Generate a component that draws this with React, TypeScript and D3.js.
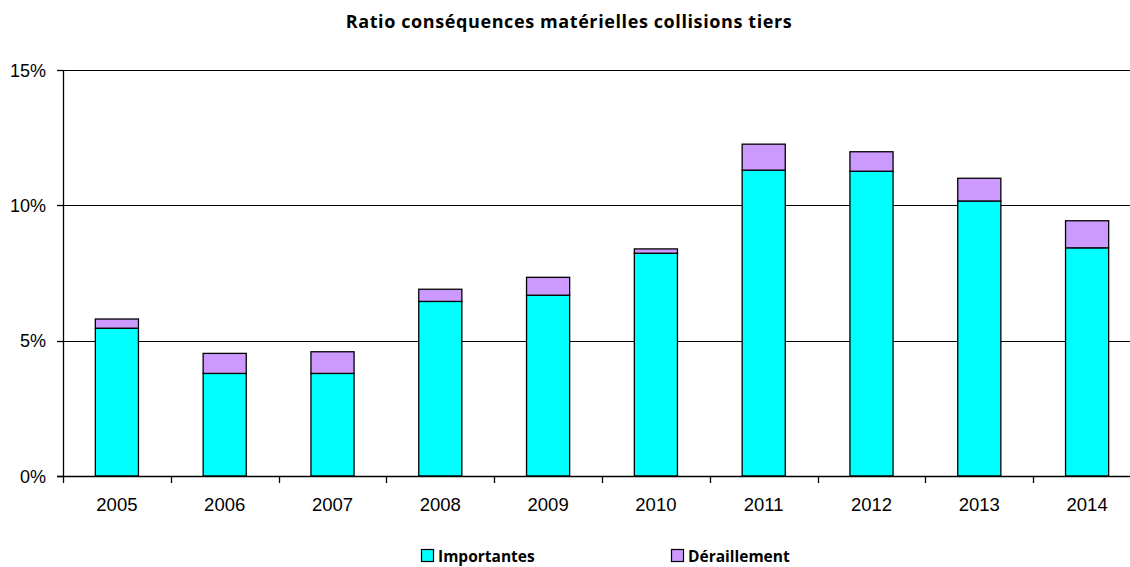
import { useEffect, useRef } from 'react'
import * as d3 from 'd3'

const YEARS = ['2005', '2006', '2007', '2008', '2009', '2010', '2011', '2012', '2013', '2014']
const IMPORTANTES = [5.46, 3.79, 3.79, 6.45, 6.68, 8.23, 11.3, 11.26, 10.16, 8.43]
const DERAILLEMENT = [0.34, 0.74, 0.8, 0.45, 0.66, 0.16, 0.96, 0.72, 0.84, 1.0]
const Y_TICKS = [0, 5, 10, 15]
const SERIES = ['Importantes', 'Déraillement']
const COLORS = ['#00ffff', '#cc99ff']

const WIDTH = 1130
const HEIGHT = 567

export default function App() {
  const svgRef = useRef<SVGSVGElement | null>(null)

  useEffect(() => {
    if (!svgRef.current) {
      return
    }
    const svg = d3.select(svgRef.current)
    svg.selectAll('*').remove()

    const left = 63
    const right = 1141
    const top = 70
    const bottom = 476

    const x = d3.scaleBand<string>().domain(YEARS).range([left, right]).padding(0)
    const y = d3.scaleLinear().domain([0, 15]).range([bottom, top])
    const barWidth = x.bandwidth() * 0.4

    svg
      .append('text')
      .attr('x', 569)
      .attr('y', 28)
      .attr('text-anchor', 'middle')
      .attr('font-family', 'Open Sans, sans-serif')
      .attr('font-weight', 700)
      .attr('font-size', 18)
      .attr('letter-spacing', 0.6)
      .attr('fill', '#000')
      .text('Ratio conséquences matérielles collisions tiers')

    // gridlines
    svg
      .append('g')
      .selectAll('line')
      .data(Y_TICKS.filter((t) => t > 0))
      .enter()
      .append('line')
      .attr('x1', left)
      .attr('x2', right)
      .attr('y1', (d: number) => Math.round(y(d)) + 0.5)
      .attr('y2', (d: number) => Math.round(y(d)) + 0.5)
      .attr('stroke', '#000')
      .attr('stroke-width', 1)

    const stack = YEARS.map((year, i) => ({
      year,
      parts: [
        { y0: 0, y1: IMPORTANTES[i], color: COLORS[0] },
        { y0: IMPORTANTES[i], y1: IMPORTANTES[i] + DERAILLEMENT[i], color: COLORS[1] },
      ],
    }))

    const groups = svg
      .append('g')
      .selectAll('g')
      .data(stack)
      .enter()
      .append('g')

    groups
      .selectAll('rect')
      .data((d: (typeof stack)[number]) => d.parts.map((p) => ({ ...p, year: d.year })))
      .enter()
      .append('rect')
      .attr('x', (d: any) => (x(d.year) ?? 0) + (x.bandwidth() - barWidth) / 2)
      .attr('width', barWidth)
      .attr('y', (d: any) => y(d.y1))
      .attr('height', (d: any) => y(d.y0) - y(d.y1))
      .attr('fill', (d: any) => d.color)
      .attr('stroke', '#000')
      .attr('stroke-width', 1.3)

    // axes
    const axisColor = '#000'
    svg
      .append('line')
      .attr('x1', left + 0.5)
      .attr('x2', left + 0.5)
      .attr('y1', top)
      .attr('y2', bottom)
      .attr('stroke', axisColor)
      .attr('stroke-width', 1.3)
    svg
      .append('line')
      .attr('x1', left - 6)
      .attr('x2', right)
      .attr('y1', bottom + 0.5)
      .attr('y2', bottom + 0.5)
      .attr('stroke', axisColor)
      .attr('stroke-width', 1.3)

    svg
      .append('g')
      .selectAll('line')
      .data(Y_TICKS)
      .enter()
      .append('line')
      .attr('x1', left - 6)
      .attr('x2', left)
      .attr('y1', (d: number) => Math.round(y(d)) + 0.5)
      .attr('y2', (d: number) => Math.round(y(d)) + 0.5)
      .attr('stroke', axisColor)
      .attr('stroke-width', 1.3)

    svg
      .append('g')
      .selectAll('text')
      .data(Y_TICKS)
      .enter()
      .append('text')
      .attr('x', 46)
      .attr('y', (d: number) => y(d) + 6.5)
      .attr('text-anchor', 'end')
      .attr('font-family', 'Liberation Sans, Arial, sans-serif')
      .attr('font-size', 18)
      .attr('fill', '#000')
      .text((d: number) => `${d}%`)

    svg
      .append('g')
      .selectAll('line')
      .data(YEARS)
      .enter()
      .append('line')
      .attr('x1', (d: string) => Math.round(x(d) ?? 0) + 0.5)
      .attr('x2', (d: string) => Math.round(x(d) ?? 0) + 0.5)
      .attr('y1', bottom)
      .attr('y2', bottom + 7)
      .attr('stroke', axisColor)
      .attr('stroke-width', 1.3)

    svg
      .append('g')
      .selectAll('text')
      .data(YEARS)
      .enter()
      .append('text')
      .attr('x', (d: string) => (x(d) ?? 0) + x.bandwidth() / 2)
      .attr('y', 511)
      .attr('text-anchor', 'middle')
      .attr('font-family', 'Liberation Sans, Arial, sans-serif')
      .attr('font-size', 18.5)
      .attr('fill', '#000')
      .text((d: string) => d)

    // legend
    const legendX = [421, 671]
    const legend = svg
      .append('g')
      .selectAll('g')
      .data(SERIES)
      .enter()
      .append('g')
      .attr('transform', (_: string, i: number) => `translate(${legendX[i]}, 549)`)
    legend
      .append('rect')
      .attr('x', 0.5)
      .attr('y', 0.5)
      .attr('width', 12)
      .attr('height', 12)
      .attr('fill', (_: string, i: number) => COLORS[i])
      .attr('stroke', '#000')
      .attr('stroke-width', 1.2)
    legend
      .append('text')
      .attr('x', 17)
      .attr('y', 12.5)
      .attr('font-family', 'Open Sans, sans-serif')
      .attr('font-weight', 700)
      .attr('font-size', 15.5)
      .attr('fill', '#000')
      .text((d: string) => d)
  }, [])

  return (
    <svg
      ref={svgRef}
      width={WIDTH}
      height={HEIGHT}
      style={{ position: 'absolute', left: 0, top: 0, background: '#fff' }}
    />
  )
}
